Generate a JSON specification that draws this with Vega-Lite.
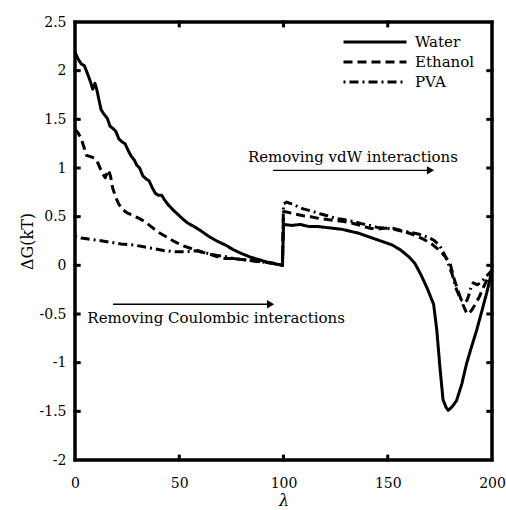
{
  "$schema": "https://vega.github.io/schema/vega-lite/v6.json",
  "width": 417,
  "height": 438,
  "autosize": {"type": "none"},
  "padding": {"left": 75, "top": 22, "right": 14, "bottom": 50},
  "background": "white",
  "datasets": {
    "curves": [
      {"series":"Water","lambda":0,"G":2.19},{"series":"Water","lambda":1.5,"G":2.12},{"series":"Water","lambda":3,"G":2.07},{"series":"Water","lambda":4.5,"G":2.05},{"series":"Water","lambda":6,"G":1.97},{"series":"Water","lambda":7.5,"G":1.88},{"series":"Water","lambda":8.5,"G":1.81},{"series":"Water","lambda":9.6,"G":1.87},{"series":"Water","lambda":10.5,"G":1.8},{"series":"Water","lambda":11.5,"G":1.7},{"series":"Water","lambda":12.5,"G":1.6},{"series":"Water","lambda":14,"G":1.55},{"series":"Water","lambda":15.5,"G":1.51},{"series":"Water","lambda":16.8,"G":1.43},{"series":"Water","lambda":18,"G":1.41},{"series":"Water","lambda":19.5,"G":1.38},{"series":"Water","lambda":21,"G":1.3},{"series":"Water","lambda":22.5,"G":1.27},{"series":"Water","lambda":24,"G":1.25},{"series":"Water","lambda":25.5,"G":1.18},{"series":"Water","lambda":27,"G":1.12},{"series":"Water","lambda":28.5,"G":1.08},{"series":"Water","lambda":29.6,"G":1.03},{"series":"Water","lambda":31,"G":1.0},{"series":"Water","lambda":32.5,"G":0.92},{"series":"Water","lambda":34,"G":0.89},{"series":"Water","lambda":35.5,"G":0.87},{"series":"Water","lambda":37,"G":0.8},{"series":"Water","lambda":38.5,"G":0.74},{"series":"Water","lambda":40,"G":0.72},{"series":"Water","lambda":41.6,"G":0.72},{"series":"Water","lambda":43,"G":0.67},{"series":"Water","lambda":44.8,"G":0.62},{"series":"Water","lambda":47,"G":0.57},{"series":"Water","lambda":49.5,"G":0.52},{"series":"Water","lambda":52,"G":0.47},{"series":"Water","lambda":54.4,"G":0.43},{"series":"Water","lambda":57,"G":0.4},{"series":"Water","lambda":60,"G":0.36},{"series":"Water","lambda":64,"G":0.3},{"series":"Water","lambda":68,"G":0.25},{"series":"Water","lambda":72,"G":0.21},{"series":"Water","lambda":76,"G":0.16},{"series":"Water","lambda":80,"G":0.12},{"series":"Water","lambda":84,"G":0.085},{"series":"Water","lambda":88,"G":0.06},{"series":"Water","lambda":92,"G":0.034},{"series":"Water","lambda":96,"G":0.015},{"series":"Water","lambda":99.5,"G":0.0},{"series":"Water","lambda":100,"G":0.42},{"series":"Water","lambda":104,"G":0.41},{"series":"Water","lambda":108,"G":0.42},{"series":"Water","lambda":112,"G":0.4},{"series":"Water","lambda":116,"G":0.4},{"series":"Water","lambda":120,"G":0.39},{"series":"Water","lambda":124,"G":0.38},{"series":"Water","lambda":128,"G":0.37},{"series":"Water","lambda":132,"G":0.35},{"series":"Water","lambda":136,"G":0.33},{"series":"Water","lambda":140,"G":0.3},{"series":"Water","lambda":144,"G":0.27},{"series":"Water","lambda":148,"G":0.24},{"series":"Water","lambda":152,"G":0.21},{"series":"Water","lambda":156,"G":0.16},{"series":"Water","lambda":160,"G":0.09},{"series":"Water","lambda":163,"G":0.02},{"series":"Water","lambda":166,"G":-0.1},{"series":"Water","lambda":169,"G":-0.24},{"series":"Water","lambda":172,"G":-0.4},{"series":"Water","lambda":173.5,"G":-0.66},{"series":"Water","lambda":175,"G":-1.04},{"series":"Water","lambda":176.5,"G":-1.38},{"series":"Water","lambda":178,"G":-1.46},{"series":"Water","lambda":179,"G":-1.49},{"series":"Water","lambda":181,"G":-1.45},{"series":"Water","lambda":183,"G":-1.39},{"series":"Water","lambda":185.5,"G":-1.22},{"series":"Water","lambda":187.8,"G":-1.01},{"series":"Water","lambda":190,"G":-0.85},{"series":"Water","lambda":192.6,"G":-0.67},{"series":"Water","lambda":195,"G":-0.48},{"series":"Water","lambda":197.5,"G":-0.28},{"series":"Water","lambda":200,"G":-0.05},
      {"series":"Ethanol","lambda":0,"G":1.4},{"series":"Ethanol","lambda":1.5,"G":1.36},{"series":"Ethanol","lambda":3,"G":1.3},{"series":"Ethanol","lambda":4.5,"G":1.2},{"series":"Ethanol","lambda":5.5,"G":1.13},{"series":"Ethanol","lambda":7,"G":1.12},{"series":"Ethanol","lambda":9.6,"G":1.1},{"series":"Ethanol","lambda":11,"G":1.05},{"series":"Ethanol","lambda":13,"G":0.95},{"series":"Ethanol","lambda":14.5,"G":0.9},{"series":"Ethanol","lambda":16,"G":0.98},{"series":"Ethanol","lambda":17,"G":0.92},{"series":"Ethanol","lambda":18,"G":0.8},{"series":"Ethanol","lambda":19.5,"G":0.7},{"series":"Ethanol","lambda":21,"G":0.63},{"series":"Ethanol","lambda":23,"G":0.57},{"series":"Ethanol","lambda":25,"G":0.54},{"series":"Ethanol","lambda":28,"G":0.51},{"series":"Ethanol","lambda":31,"G":0.48},{"series":"Ethanol","lambda":34,"G":0.44},{"series":"Ethanol","lambda":37,"G":0.39},{"series":"Ethanol","lambda":40,"G":0.34},{"series":"Ethanol","lambda":44,"G":0.29},{"series":"Ethanol","lambda":48,"G":0.24},{"series":"Ethanol","lambda":52,"G":0.2},{"series":"Ethanol","lambda":56,"G":0.17},{"series":"Ethanol","lambda":60,"G":0.14},{"series":"Ethanol","lambda":64,"G":0.12},{"series":"Ethanol","lambda":68,"G":0.09},{"series":"Ethanol","lambda":72,"G":0.07},{"series":"Ethanol","lambda":76,"G":0.07},{"series":"Ethanol","lambda":80,"G":0.06},{"series":"Ethanol","lambda":84,"G":0.05},{"series":"Ethanol","lambda":88,"G":0.04},{"series":"Ethanol","lambda":92,"G":0.03},{"series":"Ethanol","lambda":96,"G":0.02},{"series":"Ethanol","lambda":99.5,"G":0.0},{"series":"Ethanol","lambda":100,"G":0.55},{"series":"Ethanol","lambda":101,"G":0.55},{"series":"Ethanol","lambda":105,"G":0.53},{"series":"Ethanol","lambda":109.5,"G":0.51},{"series":"Ethanol","lambda":113,"G":0.5},{"series":"Ethanol","lambda":117.5,"G":0.48},{"series":"Ethanol","lambda":121,"G":0.47},{"series":"Ethanol","lambda":125.5,"G":0.46},{"series":"Ethanol","lambda":129,"G":0.45},{"series":"Ethanol","lambda":133.5,"G":0.43},{"series":"Ethanol","lambda":137,"G":0.41},{"series":"Ethanol","lambda":141.5,"G":0.38},{"series":"Ethanol","lambda":145,"G":0.37},{"series":"Ethanol","lambda":148,"G":0.38},{"series":"Ethanol","lambda":152.7,"G":0.38},{"series":"Ethanol","lambda":156,"G":0.36},{"series":"Ethanol","lambda":159,"G":0.34},{"series":"Ethanol","lambda":163,"G":0.31},{"series":"Ethanol","lambda":167,"G":0.27},{"series":"Ethanol","lambda":171,"G":0.22},{"series":"Ethanol","lambda":175,"G":0.15},{"series":"Ethanol","lambda":178,"G":0.08},{"series":"Ethanol","lambda":180,"G":0.01},{"series":"Ethanol","lambda":182,"G":-0.15},{"series":"Ethanol","lambda":184,"G":-0.28},{"series":"Ethanol","lambda":186,"G":-0.4},{"series":"Ethanol","lambda":188,"G":-0.5},{"series":"Ethanol","lambda":190,"G":-0.47},{"series":"Ethanol","lambda":192,"G":-0.4},{"series":"Ethanol","lambda":194,"G":-0.32},{"series":"Ethanol","lambda":196,"G":-0.22},{"series":"Ethanol","lambda":198,"G":-0.13},{"series":"Ethanol","lambda":200,"G":-0.05},
      {"series":"PVA","lambda":0,"G":0.3},{"series":"PVA","lambda":3,"G":0.28},{"series":"PVA","lambda":6.4,"G":0.27},{"series":"PVA","lambda":10,"G":0.26},{"series":"PVA","lambda":16,"G":0.24},{"series":"PVA","lambda":22,"G":0.22},{"series":"PVA","lambda":28,"G":0.21},{"series":"PVA","lambda":33,"G":0.19},{"series":"PVA","lambda":38.4,"G":0.17},{"series":"PVA","lambda":43,"G":0.15},{"series":"PVA","lambda":48,"G":0.14},{"series":"PVA","lambda":53,"G":0.14},{"series":"PVA","lambda":59,"G":0.15},{"series":"PVA","lambda":64,"G":0.12},{"series":"PVA","lambda":68.7,"G":0.1},{"series":"PVA","lambda":72,"G":0.09},{"series":"PVA","lambda":76,"G":0.07},{"series":"PVA","lambda":80,"G":0.06},{"series":"PVA","lambda":84,"G":0.05},{"series":"PVA","lambda":88,"G":0.04},{"series":"PVA","lambda":92,"G":0.03},{"series":"PVA","lambda":96,"G":0.015},{"series":"PVA","lambda":99.5,"G":0.0},{"series":"PVA","lambda":100,"G":0.63},{"series":"PVA","lambda":101.6,"G":0.65},{"series":"PVA","lambda":105,"G":0.62},{"series":"PVA","lambda":109.5,"G":0.58},{"series":"PVA","lambda":113,"G":0.56},{"series":"PVA","lambda":117.5,"G":0.53},{"series":"PVA","lambda":121,"G":0.51},{"series":"PVA","lambda":125.5,"G":0.48},{"series":"PVA","lambda":129,"G":0.47},{"series":"PVA","lambda":133.5,"G":0.45},{"series":"PVA","lambda":137,"G":0.43},{"series":"PVA","lambda":141.5,"G":0.41},{"series":"PVA","lambda":145,"G":0.39},{"series":"PVA","lambda":149.5,"G":0.38},{"series":"PVA","lambda":153,"G":0.37},{"series":"PVA","lambda":157,"G":0.35},{"series":"PVA","lambda":161,"G":0.34},{"series":"PVA","lambda":165,"G":0.32},{"series":"PVA","lambda":169,"G":0.29},{"series":"PVA","lambda":172,"G":0.26},{"series":"PVA","lambda":175,"G":0.2},{"series":"PVA","lambda":177,"G":0.12},{"series":"PVA","lambda":179,"G":0.02},{"series":"PVA","lambda":181,"G":-0.1},{"series":"PVA","lambda":183,"G":-0.25},{"series":"PVA","lambda":185,"G":-0.35},{"series":"PVA","lambda":186.5,"G":-0.38},{"series":"PVA","lambda":188,"G":-0.36},{"series":"PVA","lambda":189,"G":-0.3},{"series":"PVA","lambda":190,"G":-0.22},{"series":"PVA","lambda":191,"G":-0.18},{"series":"PVA","lambda":193,"G":-0.2},{"series":"PVA","lambda":195,"G":-0.17},{"series":"PVA","lambda":197,"G":-0.12},{"series":"PVA","lambda":200,"G":-0.05}
    ],
    "notes": [
      {"label": "Removing vdW interactions", "lambda": 133.3, "G": 1.06},
      {"label": "Removing Coulombic interactions", "lambda": 67.7, "G": -0.59}
    ],
    "arrows": [
      {"start": 95, "end": 170.5, "tip": 170.5, "G": 0.976},
      {"start": 18.2, "end": 93.8, "tip": 93.8, "G": -0.4}
    ],
    "frame": [
      {"x": 0, "x2": 200, "y": -2, "y2": -2},
      {"x": 0, "x2": 200, "y": 2.5, "y2": 2.5},
      {"x": 0, "x2": 0, "y": -2, "y2": 2.5},
      {"x": 200, "x2": 200, "y": -2, "y2": 2.5},
      {"x": 50, "x2": 50, "y": -2, "y2": -1.96},
      {"x": 100, "x2": 100, "y": -2, "y2": -1.96},
      {"x": 150, "x2": 150, "y": -2, "y2": -1.96},
      {"x": 50, "x2": 50, "y": 2.5, "y2": 2.46},
      {"x": 100, "x2": 100, "y": 2.5, "y2": 2.46},
      {"x": 150, "x2": 150, "y": 2.5, "y2": 2.46},
      {"x": 0, "x2": 2, "y": -1.5, "y2": -1.5},
      {"x": 0, "x2": 2, "y": -1, "y2": -1},
      {"x": 0, "x2": 2, "y": -0.5, "y2": -0.5},
      {"x": 0, "x2": 2, "y": 0, "y2": 0},
      {"x": 0, "x2": 2, "y": 0.5, "y2": 0.5},
      {"x": 0, "x2": 2, "y": 1, "y2": 1},
      {"x": 0, "x2": 2, "y": 1.5, "y2": 1.5},
      {"x": 0, "x2": 2, "y": 2, "y2": 2},
      {"x": 198, "x2": 200, "y": -1.5, "y2": -1.5},
      {"x": 198, "x2": 200, "y": -1, "y2": -1},
      {"x": 198, "x2": 200, "y": -0.5, "y2": -0.5},
      {"x": 198, "x2": 200, "y": 0, "y2": 0},
      {"x": 198, "x2": 200, "y": 0.5, "y2": 0.5},
      {"x": 198, "x2": 200, "y": 1, "y2": 1},
      {"x": 198, "x2": 200, "y": 1.5, "y2": 1.5},
      {"x": 198, "x2": 200, "y": 2, "y2": 2}
    ]
  },
  "layer": [
    {
      "data": {"name": "curves"},
      "mark": {"type": "line", "strokeWidth": 3, "color": "black", "strokeCap": "butt", "strokeJoin": "round"},
      "encoding": {
        "x": {"field": "lambda", "type": "quantitative", "scale": {"domain": [0, 200], "nice": false, "zero": false},
              "axis": {"orient": "bottom", "values": [0, 50, 100, 150, 200], "title": "λ", "titleFontStyle": "italic", "titleFontSize": 16, "labelPadding": 16, "titlePadding": 2, "labelFlush": false}},
        "y": {"field": "G", "type": "quantitative", "scale": {"domain": [-2, 2.5], "nice": false, "zero": false},
              "axis": {"orient": "left", "values": [-2, -1.5, -1, -0.5, 0, 0.5, 1, 1.5, 2, 2.5], "labelExpr": "'' + datum.value", "title": "ΔG(kT)", "titleFontSize": 16, "labelPadding": 9, "titlePadding": 4, "labelFlush": false}},
        "strokeDash": {"field": "series", "type": "nominal",
              "scale": {"domain": ["Water", "Ethanol", "PVA"], "range": [[1, 0], [9, 5], [2, 4, 9, 4]]},
              "legend": {"title": null, "orient": "none", "legendX": 288, "legendY": 8, "symbolType": "M-3,0H3", "symbolSize": 441, "symbolStrokeWidth": 3, "symbolStrokeColor": "black", "symbolFillColor": "transparent", "labelFont": "DejaVu Serif", "labelFontSize": 15, "labelColor": "black", "labelOffset": 28, "rowPadding": 0, "padding": 0}}
      }
    },
    {
      "data": {"name": "frame"},
      "mark": {"type": "rule", "color": "black", "strokeWidth": 3, "strokeCap": "square"},
      "encoding": {
        "x": {"field": "x", "type": "quantitative"},
        "x2": {"field": "x2"},
        "y": {"field": "y", "type": "quantitative"},
        "y2": {"field": "y2"}
      }
    },
    {
      "data": {"name": "notes"},
      "mark": {"type": "text", "font": "DejaVu Serif", "fontSize": 15, "color": "black", "align": "center", "baseline": "alphabetic"},
      "encoding": {
        "x": {"field": "lambda", "type": "quantitative"},
        "y": {"field": "G", "type": "quantitative"},
        "text": {"field": "label"}
      }
    },
    {
      "data": {"name": "arrows"},
      "mark": {"type": "rule", "color": "black", "strokeWidth": 1.3},
      "encoding": {
        "x": {"field": "start", "type": "quantitative"},
        "x2": {"field": "end"},
        "y": {"field": "G", "type": "quantitative"}
      }
    },
    {
      "data": {"name": "arrows"},
      "mark": {"type": "point", "shape": "triangle-right", "filled": true, "color": "black", "size": 70, "opacity": 1},
      "encoding": {
        "x": {"field": "tip", "type": "quantitative"},
        "y": {"field": "G", "type": "quantitative"}
      }
    }
  ],
  "config": {
    "view": {"stroke": "black", "strokeWidth": 3},
    "axis": {"domain": false, "ticks": false, "grid": false, "labelFont": "DejaVu Serif", "labelFontSize": 14, "labelColor": "black", "titleFont": "DejaVu Serif", "titleFontWeight": "normal", "titleColor": "black"}
  }
}
